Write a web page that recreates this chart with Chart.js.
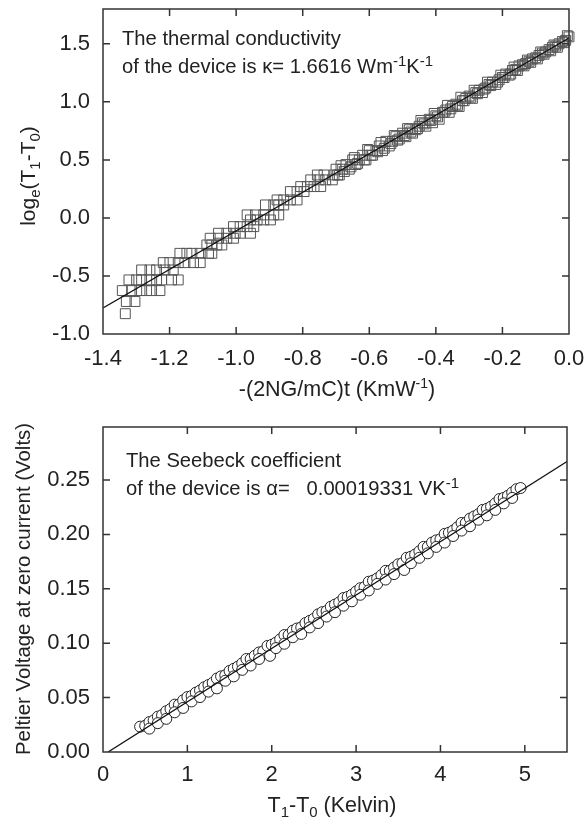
<!DOCTYPE html>
<html><head><meta charset="utf-8">
<script src="https://cdn.jsdelivr.net/npm/chart.js@4.4.1/dist/chart.umd.min.js"></script>
<style>
html,body{margin:0;padding:0;background:#fff;}
body{width:584px;height:822px;position:relative;overflow:hidden;font-family:"Liberation Sans",Arial,sans-serif;color:#222;}
canvas{position:absolute;left:0;}
#c1{top:0;}
#c2{top:411px;}
.t{position:absolute;font-size:21.5px;line-height:20px;white-space:nowrap;}
.ty{position:absolute;font-size:21px;line-height:20px;white-space:nowrap;}
.tyb{position:absolute;font-size:20.4px;line-height:20px;white-space:nowrap;}
.ann{position:absolute;font-size:20.2px;line-height:28px;white-space:nowrap;}
.sp{font-size:15px;position:relative;top:-7px;line-height:0;}
.sp2{font-size:14px;position:relative;top:-8px;line-height:0;}
.sb{font-size:15px;position:relative;top:5px;line-height:0;}
</style></head>
<body>
<canvas id="c1" width="584" height="411"></canvas>
<canvas id="c2" width="584" height="411"></canvas>

<div class="ann" style="left:122px;top:24px;">The thermal conductivity<br>of the device is &#954;= 1.6616 Wm<span class="sp">-1</span>K<span class="sp">-1</span></div>
<div class="ann" style="left:126px;top:446px;">The Seebeck coefficient<br>of the device is &#945;=&nbsp;&nbsp; 0.00019331 VK<span class="sp">-1</span></div>

<div class="t" style="left:337px;top:379px;transform:translateX(-50%);">-(2NG/mC)t (KmW<span class="sp2">-1</span>)</div>
<div class="t" style="left:332px;top:795px;transform:translateX(-50%);">T<span class="sb">1</span>-T<span class="sb">0</span> (Kelvin)</div>
<div class="ty" style="left:28px;top:176px;transform:translate(-50%,-50%) rotate(-90deg);">log<span class="sb">e</span>(T<span class="sb">1</span>-T<span class="sb">0</span>)</div>
<div class="tyb" style="left:23px;top:589px;transform:translate(-50%,-50%) rotate(-90deg);">Peltier Voltage at zero current (Volts)</div>

<script>
// ---------- Top chart data: log_e(T1-T0) vs -(2NG/mC)t ----------
const topX = [
 -1.342,-1.333,-1.330,-1.322,-1.314,-1.304,-1.299,-1.289,-1.284,-1.284,-1.269,-1.259,-1.259,-1.254,-1.239,-1.239,
 -1.229,-1.224,-1.219,-1.214,-1.199,-1.194,-1.189,-1.174,-1.174,-1.169,-1.154,-1.148,-1.133,-1.128,-1.108,-1.108,
 -1.088,-1.083,-1.078,-1.073,-1.073,-1.058,-1.053,-1.053,-1.043,-1.028,-1.028,-1.008,-1.008,-1.003,-0.988,-0.988,
 -0.967,-0.967,-0.957,-0.957,-0.947,-0.942,-0.937,-0.917,-0.917,-0.912,-0.897,-0.887,-0.887,-0.877,-0.872,-0.872,
 -0.857,-0.857,-0.837,-0.837,-0.817,-0.817,-0.806,-0.796,-0.786,-0.776,-0.766,-0.756,-0.751,-0.746,-0.736,-0.731,
 -0.711,-0.706,
 -0.70,-0.69,-0.68,-0.67,-0.66,-0.65,-0.64,-0.63,-0.62,-0.61,-0.60,-0.59,-0.58,-0.57,-0.56,-0.55,-0.54,-0.53,-0.52,-0.51,
 -0.50,-0.49,-0.48,-0.47,-0.46,-0.45,-0.44,-0.43,-0.42,-0.41,-0.40,-0.39,-0.38,-0.37,-0.36,-0.35,-0.34,-0.33,-0.32,-0.31,
 -0.30,-0.29,-0.28,-0.27,-0.26,-0.25,-0.24,-0.23,-0.22,-0.21,-0.20,-0.19,-0.18,-0.17,-0.16,-0.15,-0.14,-0.13,-0.12,-0.11,
 -0.10,-0.09,-0.08,-0.07,-0.06,-0.05,-0.04,-0.03,-0.02,-0.01,0.00,
 -0.695,-0.675,-0.655,-0.635,-0.615,-0.595,-0.575,-0.555,-0.535,-0.515,-0.495,-0.475,-0.455,-0.435,-0.415,-0.395,-0.375,
 -0.355,-0.335,-0.315,-0.295,-0.275,-0.255,-0.235,-0.215,-0.195,-0.175,-0.155,-0.135,-0.115,-0.095,-0.075,-0.055,-0.035,-0.015,
 -0.685,-0.645,-0.605,-0.565,-0.525,-0.485,-0.445,-0.405,-0.365,-0.325,-0.285,-0.245,-0.205,-0.165,-0.125,-0.085,-0.045,-0.005
];
const topY = [
 -0.626,-0.825,-0.720,-0.534,-0.626,-0.720,-0.534,-0.626,-0.534,-0.448,-0.626,-0.534,-0.448,-0.626,-0.534,-0.448,
 -0.626,-0.534,-0.385,-0.448,-0.385,-0.534,-0.448,-0.534,-0.385,-0.305,-0.385,-0.305,-0.305,-0.385,-0.385,-0.305,
 -0.233,-0.305,-0.175,-0.305,-0.233,-0.233,-0.175,-0.132,-0.233,-0.175,-0.132,-0.175,-0.075,-0.132,-0.132,-0.075,
 -0.075,0.026,-0.132,-0.017,-0.075,0.026,-0.017,-0.017,0.026,0.112,-0.017,0.026,0.112,0.155,0.026,0.112,
 0.112,0.155,0.155,0.227,0.155,0.227,0.270,0.227,0.270,0.328,0.270,0.370,0.328,0.270,0.370,0.328,
 0.328,0.370,
 0.42,0.37,0.42,0.46,0.42,0.50,0.46,0.50,0.54,0.50,0.58,0.54,0.58,0.62,0.58,0.66,0.62,0.66,0.70,0.68,
 0.73,0.70,0.76,0.73,0.76,0.79,0.82,0.79,0.85,0.82,0.88,0.85,0.91,0.93,0.91,0.96,0.98,0.96,1.01,1.03,
 1.05,1.03,1.08,1.10,1.08,1.12,1.15,1.17,1.15,1.19,1.21,1.24,1.23,1.27,1.28,1.31,1.32,1.33,1.35,1.37,
 1.38,1.40,1.42,1.43,1.45,1.47,1.48,1.50,1.52,1.53,1.56,
 0.37,0.40,0.44,0.47,0.50,0.54,0.57,0.60,0.64,0.67,0.71,0.74,0.77,0.81,0.84,0.87,0.91,
 0.94,0.97,1.01,1.04,1.07,1.11,1.14,1.17,1.21,1.24,1.27,1.31,1.34,1.37,1.41,1.44,1.47,1.51,
 0.45,0.52,0.59,0.65,0.71,0.77,0.84,0.90,0.97,1.04,1.10,1.17,1.23,1.30,1.36,1.43,1.49,1.57
];
// fitted line (kappa = 1.6616)
const topLineX = [-1.4, 0.0];
const topLineY = [-0.776, 1.55];
const topXTicks = [-1.4,-1.2,-1.0,-0.8,-0.6,-0.4,-0.2,0.0];
const topXLabels = ['-1.4','-1.2','-1.0','-0.8','-0.6','-0.4','-0.2','0.0'];
const topYTicks = [-1.0,-0.5,0.0,0.5,1.0,1.5];
const topYLabels = ['-1.0','-0.5','0.0','0.5','1.0','1.5'];

// ---------- Bottom chart data: Peltier voltage vs T1-T0 ----------
const botX = [
 0.44,0.50,0.55,0.60,0.65,0.70,0.75,0.80,0.85,0.90,0.95,1.00,1.05,1.10,1.15,1.20,1.25,1.30,1.35,1.40,1.45,
 1.50,1.55,1.60,1.65,1.70,1.75,1.80,1.85,1.90,1.95,2.00,2.05,2.10,2.15,2.20,2.25,2.30,2.35,2.40,2.45,
 2.50,2.55,2.60,2.65,2.70,2.75,2.80,2.85,2.90,2.95,3.00,3.05,3.10,3.15,3.20,3.25,3.30,3.35,3.40,3.45,
 3.50,3.55,3.60,3.65,3.70,3.75,3.80,3.85,3.90,3.95,4.00,4.05,4.10,4.15,4.20,4.25,4.30,4.35,4.40,4.45,
 4.50,4.55,4.60,4.65,4.70,4.75,4.80,4.85,4.90,4.95,
 0.55,0.65,0.75,0.85,0.95,1.05,1.15,1.25,1.35,1.45,1.55,1.65,1.75,1.85,1.98,2.05,2.15,2.25,2.35,2.45,
 2.55,2.65,2.75,2.85,2.95,3.05,3.15,3.25,3.35,3.45,3.57,3.65,3.75,3.85,3.95,4.05,4.15,4.25,4.35,4.45,
 4.55,4.65,4.75,4.85
];
const botY = [
 0.0233,0.0241,0.0275,0.0290,0.0325,0.0339,0.0375,0.0395,0.0435,0.0435,0.0475,0.0505,0.0515,0.0545,0.0565,0.0595,0.0615,0.0635,0.0675,0.0695,0.0705,
 0.0745,0.0765,0.0785,0.0815,0.0855,0.0855,0.0885,0.0915,0.0925,0.0975,0.0985,0.1005,0.1035,0.1075,0.1075,0.1115,0.1135,0.1145,0.1185,0.1205,
 0.1225,0.1265,0.1285,0.1295,0.1335,0.1355,0.1375,0.1415,0.1425,0.1445,0.1475,0.1505,0.1515,0.1565,0.1575,0.1595,0.1625,0.1665,0.1665,0.1695,
 0.1725,0.1735,0.1785,0.1795,0.1815,0.1845,0.1885,0.1885,0.1925,0.1945,0.1955,0.2005,0.2015,0.2035,0.2065,0.2105,0.2105,0.2145,0.2165,0.2185,
 0.2225,0.2235,0.2255,0.2285,0.2325,0.2335,0.2355,0.2385,0.2415,0.2426,
 0.0215,0.0265,0.0305,0.0365,0.0405,0.0465,0.0505,0.0555,0.0585,0.0655,0.0695,0.0755,0.0795,0.0855,0.0884,0.0955,0.0995,0.1055,0.1085,0.1145,
 0.1185,0.1245,0.1285,0.1345,0.1385,0.1445,0.1485,0.1545,0.1585,0.1635,0.1673,0.1735,0.1785,0.1826,0.1885,0.1925,0.1985,0.2035,0.2075,0.2135,
 0.2175,0.2225,0.2285,0.2335
];
// fitted line (alpha = 0.00019331 V/K per junction)
const botLineX = [0.06, 5.5];
const botLineY = [0.0, 0.267];
const botXTicks = [0,1,2,3,4,5];
const botXLabels = ['0','1','2','3','4','5'];
const botYTicks = [0.00,0.05,0.10,0.15,0.20,0.25];
const botYLabels = ['0.00','0.05','0.10','0.15','0.20','0.25'];

const FONT = "'Liberation Sans', Arial, Helvetica, sans-serif";
const TXT = '#222';

const frame = {
  id: 'frame',
  afterDatasetsDraw(chart) {
    const {ctx, chartArea: a} = chart;
    const xs = chart.scales.x, ys = chart.scales.y;
    ctx.save();
    ctx.strokeStyle = '#333';
    ctx.lineWidth = 1.5;
    ctx.beginPath();
    xs.ticks.forEach(t => {
      const p = xs.getPixelForValue(t.value);
      if (p > a.left + 3 && p < a.right - 3) {
        ctx.moveTo(p, a.bottom); ctx.lineTo(p, a.bottom - 7);
        ctx.moveTo(p, a.top); ctx.lineTo(p, a.top + 7);
      }
    });
    ys.ticks.forEach(t => {
      const p = ys.getPixelForValue(t.value);
      if (p > a.top + 3 && p < a.bottom - 3) {
        ctx.moveTo(a.left, p); ctx.lineTo(a.left + 7, p);
        ctx.moveTo(a.right, p); ctx.lineTo(a.right - 7, p);
      }
    });
    ctx.stroke();
    ctx.strokeRect(a.left, a.top, a.right - a.left, a.bottom - a.top);
    ctx.restore();
  }
};

function toPts(xs, ys) { return xs.map((x, i) => ({x: x, y: ys[i]})); }

function build(id, o) {
  return new Chart(document.getElementById(id), {
    type: 'scatter',
    data: {
      datasets: [
        {
          data: toPts(o.px, o.py),
          pointStyle: o.style,
          pointRadius: o.radius,
          pointBorderWidth: 1,
          pointBorderColor: o.pColor,
          pointBackgroundColor: o.pFill,
          clip: false,
          order: 2
        },
        {
          type: 'line',
          data: toPts(o.lx, o.ly),
          borderColor: '#111',
          borderWidth: 1.3,
          pointRadius: 0,
          fill: false,
          order: 1
        }
      ]
    },
    options: {
      responsive: false,
      animation: false,
      devicePixelRatio: 1,
      layout: {padding: {top: o.padTop, right: o.padRight, left: 0, bottom: 0}},
      plugins: {legend: {display: false}, tooltip: {enabled: false}},
      scales: {
        x: {
          type: 'linear', min: o.xmin, max: o.xmax,
          grid: {display: false, drawTicks: false}, border: {display: false},
          afterBuildTicks(s) { s.ticks = o.xt.map(v => ({value: v})); },
          ticks: {callback: (v, i) => o.xl[i], font: {size: 22, family: FONT}, color: TXT,
                  padding: o.xPad, maxRotation: 0, autoSkip: false},
          afterFit(s) { s.height = o.xH; s.paddingLeft = 0; s.paddingRight = 0; }
        },
        y: {
          type: 'linear', min: o.ymin, max: o.ymax,
          grid: {display: false, drawTicks: false}, border: {display: false},
          afterBuildTicks(s) { s.ticks = o.yt.map(v => ({value: v})); },
          ticks: {callback: (v, i) => o.yl[i], font: {size: 22, family: FONT}, color: TXT,
                  padding: 13, autoSkip: false},
          afterFit(s) { s.width = 103; s.paddingTop = 0; s.paddingBottom = 0; }
        }
      }
    },
    plugins: [frame]
  });
}

build('c1', {
  px: topX, py: topY, lx: topLineX, ly: topLineY,
  style: 'rect', radius: 7, pColor: '#555', pFill: 'rgba(255,255,255,0)',
  xmin: -1.4, xmax: 0, ymin: -1.0, ymax: 1.8,
  xt: topXTicks, xl: topXLabels, yt: topYTicks, yl: topYLabels,
  padTop: 9, padRight: 15, xH: 77, xPad: 12
});
build('c2', {
  px: botX, py: botY, lx: botLineX, ly: botLineY,
  style: 'circle', radius: 5.5, pColor: '#222', pFill: '#fff',
  xmin: 0, xmax: 5.5, ymin: 0, ymax: 0.2987,
  xt: botXTicks, xl: botXLabels, yt: botYTicks, yl: botYLabels,
  padTop: 16, padRight: 17, xH: 70, xPad: 10
});
</script>
</body></html>
